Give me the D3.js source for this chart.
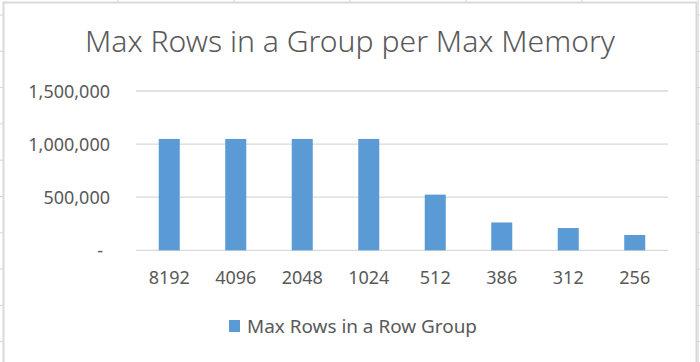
<!DOCTYPE html>
<html>
<head>
<meta charset="utf-8">
<script src="https://cdn.jsdelivr.net/npm/d3@7"></script>
<style>
  body { margin: 0; background: #fff; }
  svg { display: block; }
</style>
</head>
<body>
<div id="chart"></div>
<script>
// ---------------- data ----------------
var categories = ["8192", "4096", "2048", "1024", "512", "386", "312", "256"];
var maxRows = [1048576, 1048576, 1048576, 1048576, 524288, 262144, 209715, 144000];
var yTicks = [0, 500000, 1000000, 1500000];
var seriesName = "Max Rows in a Row Group";
var chartTitle = "Max Rows in a Group per Max Memory";

// ---------------- sizes ----------------
var svgWidth = 700, svgHeight = 362;
var plot = { left: 136, right: 668, top: 91, bottom: 250.3 };
var barColor = "#5b9bd5";
var textColor = "#595959";
var font = "'Noto Sans', 'DejaVu Sans', sans-serif";

var svg = d3.select("#chart").append("svg")
    .attr("width", svgWidth)
    .attr("height", svgHeight);

// spreadsheet cells behind the chart
var rowLines = d3.range(15, svgHeight, 36.3);
var colLines = d3.range(118, svgWidth, 116);
svg.append("g").selectAll("line").data(rowLines).enter().append("line")
    .attr("x1", 0).attr("x2", svgWidth)
    .attr("y1", d => d).attr("y2", d => d)
    .attr("stroke", "#d4d4d4").attr("stroke-width", 1);
svg.append("g").selectAll("line").data(colLines).enter().append("line")
    .attr("y1", 0).attr("y2", svgHeight)
    .attr("x1", d => d).attr("x2", d => d)
    .attr("stroke", "#d4d4d4").attr("stroke-width", 1);

// chart frame
svg.append("rect")
    .attr("x", 3.5).attr("y", 2.5)
    .attr("width", 693).attr("height", svgHeight + 10)
    .attr("fill", "#fff")
    .attr("stroke", "#d9d9d9")
    .attr("stroke-width", 2);

// ---------------- scales ----------------
var x = d3.scaleBand()
    .domain(categories)
    .range([plot.left, plot.right])
    .paddingInner(0.684)
    .paddingOuter(0.342);

var y = d3.scaleLinear()
    .domain([0, 1500000])
    .range([plot.bottom, plot.top]);

// gridlines
svg.append("g").selectAll("line").data(yTicks).enter().append("line")
    .attr("x1", plot.left).attr("x2", plot.right)
    .attr("y1", d => y(d)).attr("y2", d => y(d))
    .attr("stroke", "#d9d9d9").attr("stroke-width", 1.3);

// y labels
var fmt = d3.format(",");
svg.append("g").selectAll("text").data(yTicks).enter().append("text")
    .attr("x", d => d === 0 ? 103 : 110)
    .attr("y", d => y(d) + 6.5)
    .attr("text-anchor", "end")
    .attr("fill", textColor)
    .style("font-family", font)
    .style("font-size", "18px")
    .text(d => d === 0 ? "-" : fmt(d));

// bars
svg.append("g").selectAll("rect")
    .data(categories.map((c, i) => ({ cat: c, value: maxRows[i] })))
    .enter().append("rect")
    .attr("x", d => x(d.cat))
    .attr("y", d => y(d.value))
    .attr("width", x.bandwidth())
    .attr("height", d => y(0) - y(d.value))
    .attr("fill", barColor);

// x labels
svg.append("g").selectAll("text").data(categories).enter().append("text")
    .attr("x", d => x(d) + x.bandwidth() / 2)
    .attr("y", 284)
    .attr("text-anchor", "middle")
    .attr("fill", textColor)
    .style("font-family", font)
    .style("font-size", "18px")
    .text(d => d);

// title
svg.append("text")
    .attr("x", 350)
    .attr("y", 52)
    .attr("text-anchor", "middle")
    .attr("fill", textColor)
    .attr("textLength", 530)
    .attr("lengthAdjust", "spacingAndGlyphs")
    .style("font-family", font)
    .style("font-size", "30px")
    .style("font-weight", 300)
    .text(chartTitle);

// legend
svg.append("rect")
    .attr("x", 229).attr("y", 320)
    .attr("width", 11).attr("height", 12)
    .attr("fill", barColor);
svg.append("text")
    .attr("x", 247)
    .attr("y", 332.5)
    .attr("fill", textColor)
    .attr("textLength", 230)
    .attr("lengthAdjust", "spacingAndGlyphs")
    .style("font-family", font)
    .style("font-size", "18px")
    .text(seriesName);
</script>
</body>
</html>
